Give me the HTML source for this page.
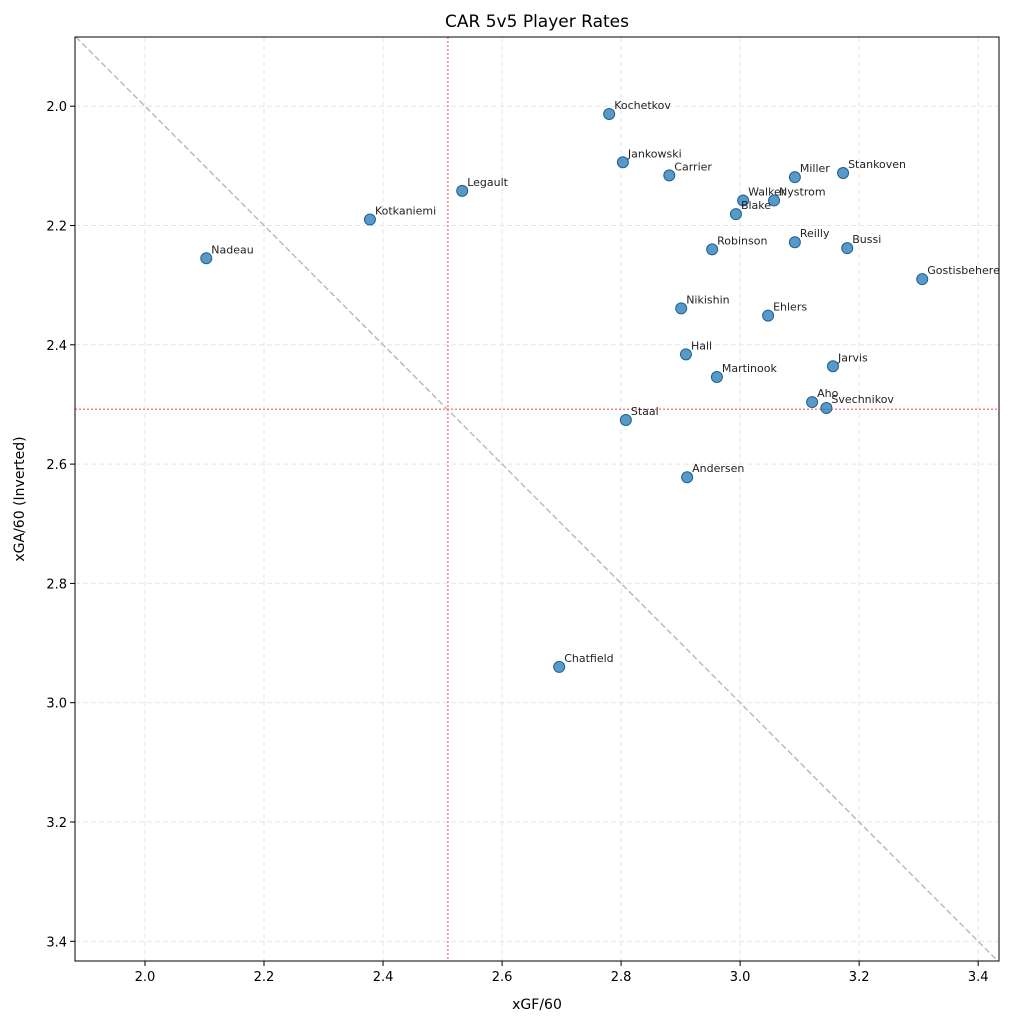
<!DOCTYPE html>
<html><head><meta charset="utf-8"><style>
body{margin:0;background:#fff;font-family:"Liberation Sans","DejaVu Sans",sans-serif}
svg text{font-family:"DejaVu Sans","Liberation Sans",sans-serif}
</style></head><body>
<svg id="chart" width="1027" height="1027" xmlns="http://www.w3.org/2000/svg">
<rect width="1027" height="1027" fill="#fff"/>
<g id="grid"></g><g id="refs"></g><g id="pts"></g><g id="axes"></g>
</svg>
<script>
const players=["Kochetkov","Jankowski","Carrier","Legault","Kotkaniemi","Nadeau","Miller","Stankoven","Walker","Nystrom","Blake","Robinson","Reilly","Bussi","Gostisbehere","Nikishin","Ehlers","Hall","Jarvis","Martinook","Aho","Svechnikov","Staal","Andersen","Chatfield"];
const xgf=[2.780,2.803,2.881,2.533,2.378,2.103,3.092,3.173,3.005,3.057,2.993,2.953,3.092,3.180,3.306,2.901,3.047,2.909,3.156,2.961,3.121,3.145,2.808,2.911,2.696];
const xga=[2.013,2.094,2.116,2.142,2.190,2.255,2.119,2.112,2.158,2.158,2.181,2.240,2.228,2.238,2.290,2.339,2.351,2.416,2.436,2.454,2.496,2.506,2.526,2.622,2.940];
const xTicks=[2.0,2.2,2.4,2.6,2.8,3.0,3.2,3.4];
const yTicks=[2.0,2.2,2.4,2.6,2.8,3.0,3.2,3.4];
const meanX=2.509, meanY=2.508;
const L=75,R=999,T=37,B=961;
const x0=1.8824,x1=3.435,y0=1.884,y1=3.433;
const sx=v=>L+(v-x0)/(x1-x0)*(R-L);
const sy=v=>T+(v-y0)/(y1-y0)*(B-T);
const NS="http://www.w3.org/2000/svg";
function mk(p,t,a){const e=document.createElementNS(NS,t);for(const k in a)e.setAttribute(k,a[k]);p.appendChild(e);return e;}
const grid=document.getElementById('grid'),refs=document.getElementById('refs'),pts=document.getElementById('pts'),axes=document.getElementById('axes');
xTicks.forEach(v=>{const l=mk(grid,'line',{x1:sx(v),x2:sx(v),y1:T,y2:B,stroke:'#e6e6e6','stroke-dasharray':'5,3'});

});
yTicks.forEach(v=>{const l=mk(grid,'line',{x1:L,x2:R,y1:sy(v),y2:sy(v),stroke:'#e6e6e6','stroke-dasharray':'5,3'});

});
const lo=Math.max(x0,y0),hi=Math.min(x1,y1);
const d=mk(refs,'line',{x1:sx(lo),y1:sy(lo),x2:sx(hi),y2:sy(hi),stroke:'#bbb','stroke-width':1.5,'stroke-dasharray':'6,3'});


const mx=mk(refs,'line',{x1:sx(meanX),x2:sx(meanX),y1:T,y2:B,stroke:'#ff8080','stroke-width':1.5,'stroke-dasharray':'2,2'});


const my=mk(refs,'line',{x1:L,x2:R,y1:sy(meanY),y2:sy(meanY),stroke:'#ff8080','stroke-width':1.5,'stroke-dasharray':'2,2'});


players.forEach((n,i)=>{const c=mk(pts,'circle',{cx:sx(xgf[i]),cy:sy(xga[i]),r:5.5,fill:'#1f77b4','fill-opacity':0.75,stroke:'#1f5f94','stroke-width':1});


const t=mk(pts,'text',{x:sx(xgf[i])+5,y:sy(xga[i])-5,'font-size':11,fill:'#222'});t.textContent=n;

});
const fr=mk(axes,'rect',{x:L,y:T,width:R-L,height:B-T,fill:'none',stroke:'#000','stroke-width':1});


xTicks.forEach(v=>{mk(axes,'line',{x1:sx(v),x2:sx(v),y1:B,y2:B+5,stroke:'#000'});
const t=mk(axes,'text',{x:sx(v),y:B+20,'font-size':13,'text-anchor':'middle'});t.textContent=v.toFixed(1);

});
yTicks.forEach(v=>{mk(axes,'line',{x1:L-5,x2:L,y1:sy(v),y2:sy(v),stroke:'#000'});
const t=mk(axes,'text',{x:L-8,y:sy(v)+5,'font-size':13,'text-anchor':'end'});t.textContent=v.toFixed(1);

});
const ti=mk(axes,'text',{x:(L+R)/2,y:27,'font-size':17,'text-anchor':'middle'});ti.textContent='CAR 5v5 Player Rates';


const xl=mk(axes,'text',{x:(L+R)/2,y:1009,'font-size':14,'text-anchor':'middle'});xl.textContent='xGF/60';


const yl=mk(axes,'text',{x:24,y:(T+B)/2,'font-size':14,'text-anchor':'middle',transform:'rotate(-90 24 '+((T+B)/2)+')'});yl.textContent='xGA/60 (Inverted)';


</script>
</body></html>
